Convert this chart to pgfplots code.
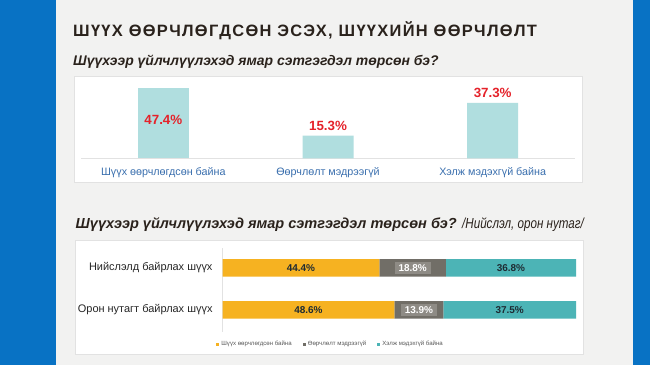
\documentclass[border=0pt]{standalone}
\usepackage{fontspec}
\setmainfont{Liberation Sans}
\newfontfamily\titlefont[LetterSpace=8]{Liberation Sans}
\newfontfamily\narrowfont[FakeStretch=0.8]{Liberation Sans}
\usepackage{pgfplots}
\usepackage{pgfplotstable}
\pgfplotsset{compat=1.18}
\definecolor{borderblue}{HTML}{0872C4}
\definecolor{bgc}{HTML}{F2F2F1}
\definecolor{boxline}{HTML}{E2E2E2}
\definecolor{titlec}{HTML}{2A221C}
\definecolor{barc}{HTML}{B0DEDF}
\definecolor{redc}{HTML}{E5222A}
\definecolor{catc}{HTML}{3A6FAE}
\definecolor{orng}{HTML}{F6B221}
\definecolor{grayc}{HTML}{716E67}
\definecolor{graylab}{HTML}{8E8B85}
\definecolor{tealc}{HTML}{4CB4B6}
\definecolor{darklab}{HTML}{1E2B33}
\definecolor{legc}{HTML}{595959}

\pgfplotstableread{
cat val
0 47.4
1 15.3
2 37.3
}\tblone

\pgfplotstableread{
row a b c
0 48.6 13.9 37.5
1 44.4 18.8 36.8
}\tbltwo

\begin{document}
\begin{tikzpicture}[x=1bp,y=1bp]
\fill[borderblue] (0,0) rectangle (650,365);
\fill[bgc] (56,0) rectangle (633,365);
\filldraw[fill=white, draw=boxline, line width=0.6bp] (74.5,288.5) rectangle (582.5,183);
\filldraw[fill=white, draw=boxline, line width=0.6bp] (75,125) rectangle (583,11);

\node[anchor=base west, inner sep=0, text=titlec] at (73,328.3)
  {\fontsize{16.5}{18}\selectfont\titlefont\bfseries ШҮҮХ ӨӨРЧЛӨГДСӨН ЭСЭХ, ШҮҮХИЙН ӨӨРЧЛӨЛТ};
\node[anchor=base west, inner sep=0, text=titlec] at (73,300)
  {\fontsize{14}{16}\selectfont\bfseries\itshape Шүүхээр үйлчлүүлэхэд ямар сэтгэгдэл төрсөн бэ?};
\node[anchor=base west, inner sep=0, text=titlec] at (75.5,137)
  {\fontsize{14.6}{17}\selectfont\textbf{\textit{Шүүхээр үйлчлүүлэхэд ямар сэтгэгдэл төрсөн бэ?}} {\narrowfont\itshape /Нийслэл, орон нутаг/}};

% chart 1
\begin{axis}[
  at={(81bp,206.7bp)}, anchor=south west,
  scale only axis, width=494bp, height=89.2bp,
  xmin=-0.5, xmax=2.5, ymin=0, ymax=60,
  axis x line=bottom, axis y line=none,
  x axis line style={-, draw=boxline, line width=0.8bp},
  xtick={0,1,2},
  xticklabels={Шүүх өөрчлөгдсөн байна, Өөрчлөлт мэдрээгүй, Хэлж мэдэхгүй байна},
  major tick length=0pt,
  xticklabel style={font=\fontsize{10.8}{12}\selectfont, text=catc, anchor=center, yshift=-14.7bp},
  ybar, bar width=51bp, bar shift=0pt,
  clip=false,
  /pgf/number format/assume math mode=true,
  nodes near coords={\pgfmathprintnumber[fixed,fixed zerofill,precision=1]{\pgfplotspointmeta}\%},
  every node near coord/.append style={font=\fontsize{13.4}{15}\selectfont\bfseries, text=redc, anchor=center, yshift=10bp},
]
\addplot[fill=barc, draw=none, every node near coord/.append style={yshift=-42.3bp}]
  table[x=cat, y=val, restrict expr to domain={\thisrow{cat}}{0:0}] {\tblone};
\addplot[fill=barc, draw=none]
  table[x=cat, y=val, restrict expr to domain={\thisrow{cat}}{1:2}] {\tblone};
\end{axis}

% chart 2
\begin{axis}[
  at={(222.5bp,33.3bp)}, anchor=south west,
  scale only axis, width=353.5bp, height=83.4bp,
  xmin=0, xmax=100, ymin=-0.517, ymax=1.469,
  axis y line=left, axis x line=none,
  y axis line style={-, draw=boxline, line width=0.8bp},
  ytick={0,1},
  yticklabels={Орон нутагт байрлах шүүх, Нийслэлд байрлах шүүх},
  major tick length=0pt,
  yticklabel style={font=\fontsize{11}{12}\selectfont, text=black!85, inner sep=0pt, anchor=east, xshift=-9.8bp},
  xbar stacked, bar width=17.5bp,
  clip=false,
  /pgf/number format/assume math mode=true,
  point meta=explicit,
  nodes near coords={\pgfmathprintnumber[fixed,fixed zerofill,precision=1]{\pgfplotspointmeta}\%},
  every node near coord/.append style={font=\fontsize{10}{11}\selectfont\bfseries, text=darklab, anchor=center},
  legend style={at={(0.3055,-0.153)}, anchor=center, legend columns=3, draw=none, fill=none,
    font=\fontsize{6.1}{7}\selectfont, text=legc, inner sep=0pt,
    /tikz/every even column/.append style={column sep=9bp}},
  legend image code/.code={\fill[#1] (0bp,-1.6bp) rectangle (3.2bp,1.6bp);},
]
\addplot[fill=orng, draw=none]
  table[x=a, y=row, meta=a] {\tbltwo};
\addplot[fill=grayc, draw=none,
  every node near coord/.append style={text=white, fill=graylab, inner xsep=4bp, inner ysep=2bp}]
  table[x=b, y=row, meta=b] {\tbltwo};
\addplot[fill=tealc, draw=none]
  table[x=c, y=row, meta=c] {\tbltwo};
\legend{Шүүх өөрчлөгдсөн байна, Өөрчлөлт мэдрээгүй, Хэлж мэдэхгүй байна}
\end{axis}
\end{tikzpicture}
\end{document}
